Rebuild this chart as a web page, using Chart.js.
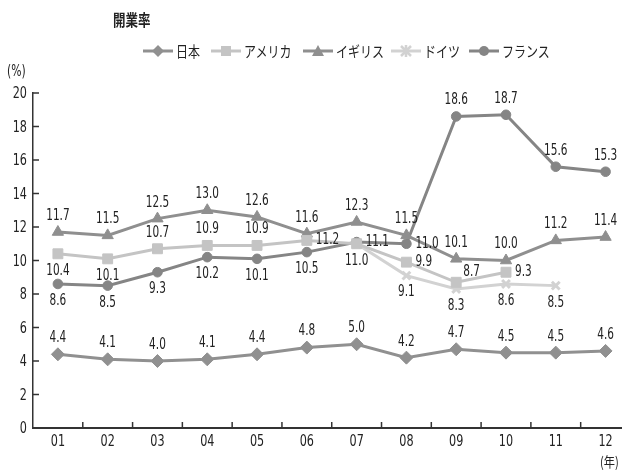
<!DOCTYPE html>
<html><head><meta charset="utf-8">
<script src="https://cdn.jsdelivr.net/npm/chart.js@4.4.0/dist/chart.umd.min.js"></script>
<style>
html,body{margin:0;padding:0;background:#fff;}
#wrap{position:relative;width:630px;height:470px;overflow:hidden;}
canvas{position:absolute;left:0;top:0;}
.t{position:absolute;font-family:'Noto Sans CJK JP',sans-serif;color:#222;white-space:nowrap;transform-origin:left center;}
#title{left:113px;top:7px;font-size:16px;font-weight:bold;transform:scaleX(0.78);}
#legend{left:143px;top:40px;font-size:15px;display:flex;align-items:center;}
#legend .it{display:flex;align-items:center;margin-right:9px;}
#legend .it span{display:inline-block;transform:scaleX(0.8);transform-origin:left center;}
#legend svg{margin-right:3px;}
#pct{left:7px;top:62px;font-family:'DejaVu Sans',sans-serif;font-size:15px;transform:scaleX(0.72);}
#nen{left:600px;top:451px;font-size:14px;transform:scaleX(0.8);}
</style></head>
<body><div id="wrap"><canvas id="c" width="630" height="470"></canvas>
<div class="t" id="title">開業率</div>
<div class="t" id="legend"></div>
<div class="t" id="pct">(%)</div>
<div class="t" id="nen">(年)</div>
</div>
<script>
const categories = ['01','02','03','04','05','06','07','08','09','10','11','12'];
const seriesNames = ['日本','アメリカ','イギリス','ドイツ','フランス'];
const japan   = [4.4, 4.1, 4.0, 4.1, 4.4, 4.8, 5.0, 4.2, 4.7, 4.5, 4.5, 4.6];
const usa     = [10.4, 10.1, 10.7, 10.9, 10.9, 11.2, 11.0, 9.9, 8.7, 9.3, null, null];
const uk      = [11.7, 11.5, 12.5, 13.0, 12.6, 11.6, 12.3, 11.5, 10.1, 10.0, 11.2, 11.4];
const germany = [null, null, null, null, null, null, 11.0, 9.1, 8.3, 8.6, 8.5, null];
const france  = [8.6, 8.5, 9.3, 10.2, 10.1, 10.5, 11.1, 11.0, 18.6, 18.7, 15.6, 15.3];
const yTicks  = [0, 2, 4, 6, 8, 10, 12, 14, 16, 18, 20];

// label placement per point (style only): a=above, b=below, r=right, ar=above-right, n=none
const pos = [
  ['a','a','a','a','a','a','a','a','a','a','a','a'],
  ['b','b','a','a','a','r','b','r','ar','r','n','n'],
  ['a','a','a','a','a','a','a','a','a','a','a','a'],
  ['n','n','n','n','n','n','n','b','b','b','b','n'],
  ['b','b','b','b','b','b','r','r','a','a','a','a']
];
const colors = ['#909090','#c4c4c4','#8f8f8f','#d2d2d2','#858585'];
const styles = ['rectRot','rect','triangle','crossRot','circle'];
const radii  = [6.5, 7, 6.5, 5.5, 4.8];
const allData = [japan, usa, uk, germany, france];

const datasets = allData.map((arr, k) => ({
  label: seriesNames[k],
  data: arr.map((v, i) => ({x: i + 1, y: v})),
  borderColor: colors[k],
  backgroundColor: colors[k],
  pointBackgroundColor: colors[k],
  pointBorderColor: colors[k],
  pointStyle: styles[k],
  pointRadius: radii[k],
  pointBorderWidth: k === 3 ? 3 : 1,
  borderWidth: 3,
  spanGaps: false,
  tension: 0
}));

const numFont = "'DejaVu Sans',sans-serif";
const SX = 0.7;

function narrowText(ctx, txt, x, y, align) {
  ctx.save();
  ctx.translate(x, y);
  ctx.scale(SX, 1);
  ctx.textAlign = align;
  ctx.textBaseline = 'middle';
  ctx.fillText(txt, 0, 0);
  ctx.restore();
}

const labelPlugin = {
  id: 'labels',
  afterDatasetsDraw(chart) {
    const ctx = chart.ctx;
    ctx.save();
    ctx.font = '15px ' + numFont;
    ctx.fillStyle = '#222';
    chart.data.datasets.forEach((ds, k) => {
      const meta = chart.getDatasetMeta(k);
      meta.data.forEach((pt, i) => {
        const v = allData[k][i];
        if (v === null) return;
        const p = pos[k][i];
        if (p === 'n') return;
        const txt = v.toFixed(1);
        let x = pt.x, y = pt.y, al = 'center';
        if (p === 'a') { y -= 16; }
        else if (p === 'b') { y += 17; }
        else if (p === 'r') { al = 'left'; x += 9; }
        else if (p === 'ar') { al = 'left'; x += 7; y -= 10; }
        narrowText(ctx, txt, x, y, al);
      });
    });
    ctx.restore();
  }
};

const axisPlugin = {
  id: 'axisDecor',
  afterDraw(chart) {
    const ctx = chart.ctx, xs = chart.scales.x, ys = chart.scales.y;
    const a = chart.chartArea;
    ctx.save();
    ctx.strokeStyle = '#333';
    ctx.lineWidth = 1.5;
    yTicks.forEach(v => {
      if (v === 0) return;
      const y = ys.getPixelForValue(v);
      ctx.beginPath(); ctx.moveTo(a.left, y); ctx.lineTo(a.left + 6, y); ctx.stroke();
    });
    for (let i = 1; i < categories.length; i++) {
      const x = xs.getPixelForValue(i + 0.5);
      ctx.beginPath(); ctx.moveTo(x, a.bottom); ctx.lineTo(x, a.bottom - 6); ctx.stroke();
    }
    ctx.fillStyle = '#222';
    ctx.font = '16px ' + numFont;
    yTicks.forEach(v => {
      narrowText(ctx, String(v), a.left - 6, ys.getPixelForValue(v) + 1, 'right');
    });
    categories.forEach((c, i) => {
      narrowText(ctx, c, xs.getPixelForValue(i + 1), a.bottom + 14, 'center');
    });
    ctx.restore();
  }
};

new Chart(document.getElementById('c'), {
  type: 'line',
  data: { datasets },
  options: {
    responsive: false,
    animation: false,
    layout: { padding: { top: 93, right: 0, bottom: 0, left: 0 } },
    plugins: { legend: { display: false }, tooltip: { enabled: false }, title: { display: false } },
    scales: {
      x: {
        type: 'linear',
        min: 0.5,
        max: 12.32,
        afterBuildTicks: s => { s.ticks = categories.map((c, i) => ({ value: i + 1 })); },
        afterFit: s => { s.height = 42; },
        ticks: { display: false },
        grid: { display: false, drawTicks: false },
        border: { display: true, color: '#333', width: 2 }
      },
      y: {
        min: 0,
        max: 20,
        afterBuildTicks: s => { s.ticks = yTicks.map(v => ({ value: v })); },
        afterFit: s => { s.width = 33; },
        ticks: { display: false },
        grid: { display: false, drawTicks: false },
        border: { display: true, color: '#333', width: 1.5 }
      }
    }
  },
  plugins: [labelPlugin, axisPlugin]
});

// HTML legend
const lg = document.getElementById('legend');
const shapes = {
  rectRot: c => `<polygon points="15,1 21,7 15,13 9,7" fill="${c}"/>`,
  rect: c => `<rect x="10" y="2" width="10" height="10" fill="${c}"/>`,
  triangle: c => `<polygon points="15,1 21,12 9,12" fill="${c}"/>`,
  crossRot: c => `<path d="M10,2 L20,12 M20,2 L10,12 M15,1 L15,13" stroke="${c}" stroke-width="2.5"/>`,
  circle: c => `<circle cx="15" cy="7" r="5" fill="${c}"/>`
};
const textW = [26, 50, 46, 36, 46];
seriesNames.forEach((n, k) => {
  const d = document.createElement('div');
  d.className = 'it';
  d.innerHTML = `<svg width="30" height="14"><line x1="0" y1="7" x2="30" y2="7" stroke="${colors[k]}" stroke-width="3"/>${shapes[styles[k]](colors[k])}</svg><span style="width:${textW[k]}px">${n}</span>`;
  lg.appendChild(d);
});
</script>
</body></html>
